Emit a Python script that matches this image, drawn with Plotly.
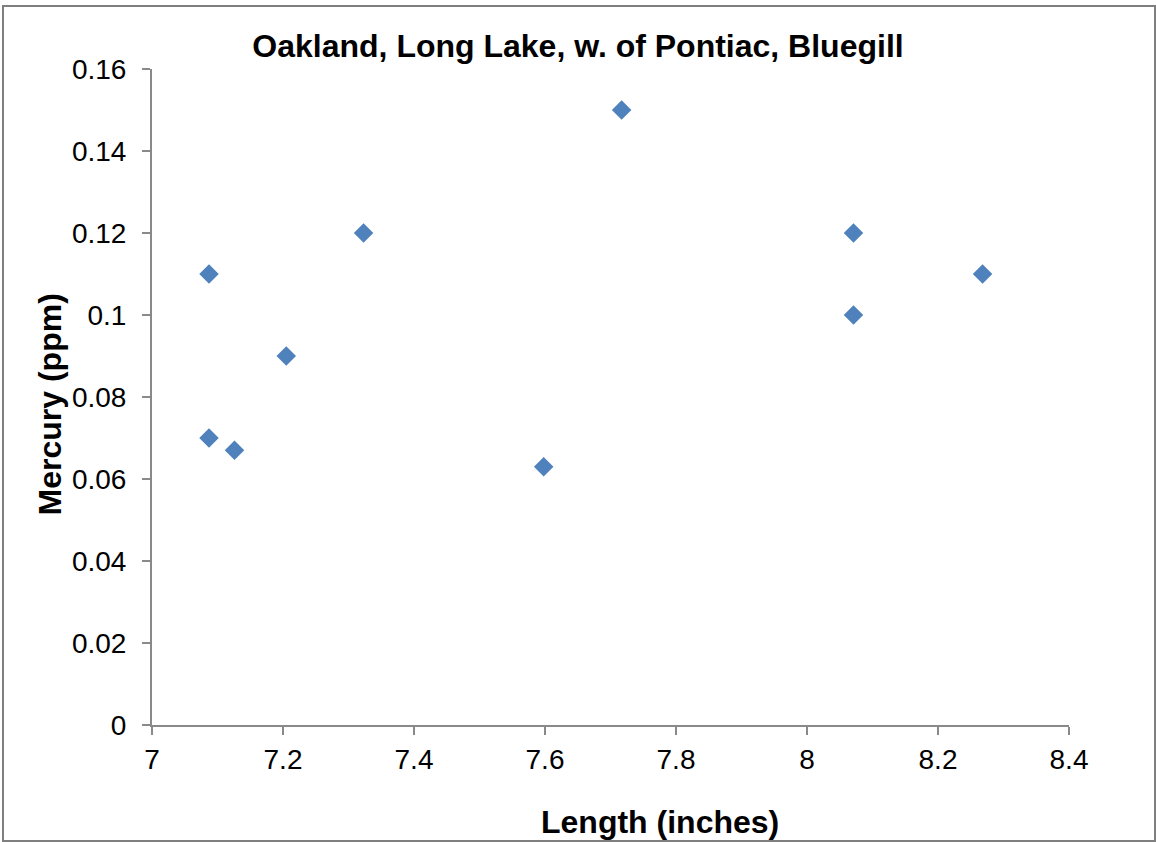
import plotly.graph_objects as go

# Bluegill samples: length (inches) vs mercury (ppm)
length_in = [7.087, 7.087, 7.126, 7.205, 7.323, 7.598, 7.717, 8.071, 8.071, 8.268]
mercury_ppm = [0.11, 0.07, 0.067, 0.09, 0.12, 0.063, 0.15, 0.12, 0.10, 0.11]

x_ticks = [7, 7.2, 7.4, 7.6, 7.8, 8, 8.2, 8.4]
x_labels = ["7", "7.2", "7.4", "7.6", "7.8", "8", "8.2", "8.4"]
y_ticks = [0, 0.02, 0.04, 0.06, 0.08, 0.1, 0.12, 0.14, 0.16]
y_labels = ["0", "0.02", "0.04", "0.06", "0.08", "0.1", "0.12", "0.14", "0.16"]

axis_grey = "#898989"

fig = go.Figure()
fig.add_trace(go.Scatter(
    x=length_in,
    y=mercury_ppm,
    mode="markers",
    marker=dict(symbol="diamond", size=15, color="#4F81BD",
                line=dict(width=0)),
    showlegend=False,
))

axis_common = dict(
    showgrid=False,
    zeroline=False,
    showline=True,
    linecolor=axis_grey,
    linewidth=2,
    ticks="outside",
    ticklen=8,
    tickwidth=2,
    tickcolor=axis_grey,
    tickfont=dict(size=28),
    automargin=False,
)

fig.update_layout(
    width=1156,
    height=842,
    paper_bgcolor="white",
    plot_bgcolor="white",
    margin=dict(l=152, r=87, t=69, b=117),
    font=dict(family="Liberation Sans, Arial, sans-serif", color="black"),
    title=dict(
        text="<b>Oakland, Long Lake, w. of Pontiac, Bluegill</b>",
        x=0.5, xref="container", xanchor="center",
        y=1 - 46 / 842, yref="container", yanchor="middle",
        font=dict(size=32, color="black"),
    ),
    xaxis=dict(range=[7, 8.4], tickvals=x_ticks, ticktext=x_labels,
               ticklabelstandoff=0, **axis_common),
    yaxis=dict(range=[0, 0.16], tickvals=y_ticks, ticktext=y_labels,
               ticklabelstandoff=10, **axis_common),
    annotations=[
        dict(text="<b>Length (inches)</b>", xref="paper", yref="paper",
             x=0.554, y=-0.148, xanchor="center", yanchor="middle",
             showarrow=False, font=dict(size=32)),
        dict(text="<b>Mercury (ppm)</b>", xref="paper", yref="paper",
             x=-0.111, y=0.489, xanchor="center", yanchor="middle",
             textangle=-90, showarrow=False, font=dict(size=32)),
    ],
    shapes=[dict(
        type="rect", xref="paper", yref="paper",
        x0=-0.1625, x1=1.0938, y0=-0.1768, y1=1.096,
        line=dict(color="#7f7f7f", width=2),
        fillcolor="rgba(0,0,0,0)",
        layer="below",
    )],
)

fig.write_html("out.html", config={"displayModeBar": False},
               post_script="document.body.style.margin='0';")
